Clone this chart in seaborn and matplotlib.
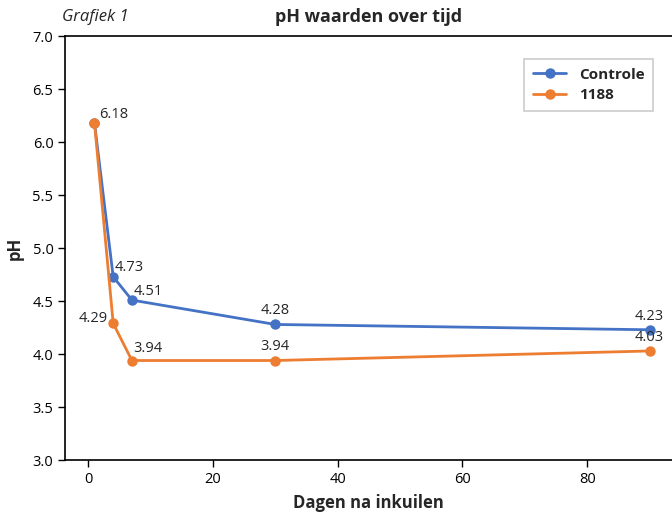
import numpy as np
import pandas as pd
import matplotlib
matplotlib.use("Agg")
import matplotlib.pyplot as plt
import seaborn as sns

# data
dagen = [1, 4, 7, 30, 90]
controle = [6.18, 4.73, 4.51, 4.28, 4.23]
behandeld_1188 = [6.18, 4.29, 3.94, 3.94, 4.03]
series_names = ["Controle", "1188"]

df = pd.DataFrame({
    "Dagen": dagen * 2,
    "pH": controle + behandeld_1188,
    "Serie": [series_names[0]] * len(dagen) + [series_names[1]] * len(dagen),
})

sns.set_theme(style="white")
plt.rcParams["font.family"] = ["Open Sans", "DejaVu Sans"]

fig = plt.figure(figsize=(6.72, 5.17), dpi=100)
ax = fig.add_axes([0.097, 0.110, 0.903, 0.820])

colors = {"Controle": "#4472C4", "1188": "#ED7D31"}
sns.lineplot(data=df, x="Dagen", y="pH", hue="Serie", palette=colors,
             marker="o", markersize=7.5, markeredgewidth=0, linewidth=2,
             ax=ax)

ax.set_xlim(-3.7, 93.6)
ax.set_ylim(3.0, 7.0)
ax.set_yticks(np.arange(3.0, 7.01, 0.5))
ax.set_yticklabels([f"{v:.1f}" for v in np.arange(3.0, 7.01, 0.5)])
ax.set_xticks([0, 20, 40, 60, 80])

for s in ["top", "left", "bottom"]:
    ax.spines[s].set_color("black")
    ax.spines[s].set_linewidth(1.2)
ax.spines["right"].set_visible(False)
ax.tick_params(axis="both", which="both", length=5, width=1, direction="out",
               labelsize=10.5, colors="black", left=True, bottom=True)

ax.set_xlabel("Dagen na inkuilen", fontsize=12, fontweight="bold", labelpad=5)
ax.set_ylabel("pH", fontsize=12, fontweight="bold", labelpad=6)
ax.set_title("pH waarden over tijd", fontsize=13, fontweight="bold", pad=10)
fig.text(0.092, 0.968, "Grafiek 1", fontsize=12, style="italic", ha="left", va="center")

# data labels
def label(x, y, txt, dx, dy, ha):
    ax.annotate(txt, (x, y), xytext=(dx, dy), textcoords="offset points",
                ha=ha, va="bottom", fontsize=10.5)

label(dagen[0], controle[0], f"{controle[0]:.2f}", 3, 1, "left")
label(dagen[1], controle[1], f"{controle[1]:.2f}", 1, 1, "left")
label(dagen[2], controle[2], f"{controle[2]:.2f}", 1, 1, "left")
label(dagen[3], controle[3], f"{controle[3]:.2f}", 0, 5, "center")
label(dagen[4], controle[4], f"{controle[4]:.2f}", 0, 4, "center")
label(dagen[1], behandeld_1188[1], f"{behandeld_1188[1]:.2f}", -4, -2, "right")
label(dagen[2], behandeld_1188[2], f"{behandeld_1188[2]:.2f}", 1, 3, "left")
label(dagen[3], behandeld_1188[3], f"{behandeld_1188[3]:.2f}", 0, 5, "center")
label(dagen[4], behandeld_1188[4], f"{behandeld_1188[4]:.2f}", 0, 4, "center")

leg = ax.legend(loc="upper right", bbox_to_anchor=(0.982, 0.965), frameon=True,
                fancybox=False, prop={"weight": "bold", "size": 11},
                handlelength=2.2, borderpad=0.6, labelspacing=0.4)
leg.get_frame().set_edgecolor("#BFBFBF")
leg.get_frame().set_linewidth(1.2)

fig.savefig("out.png", dpi=100)
